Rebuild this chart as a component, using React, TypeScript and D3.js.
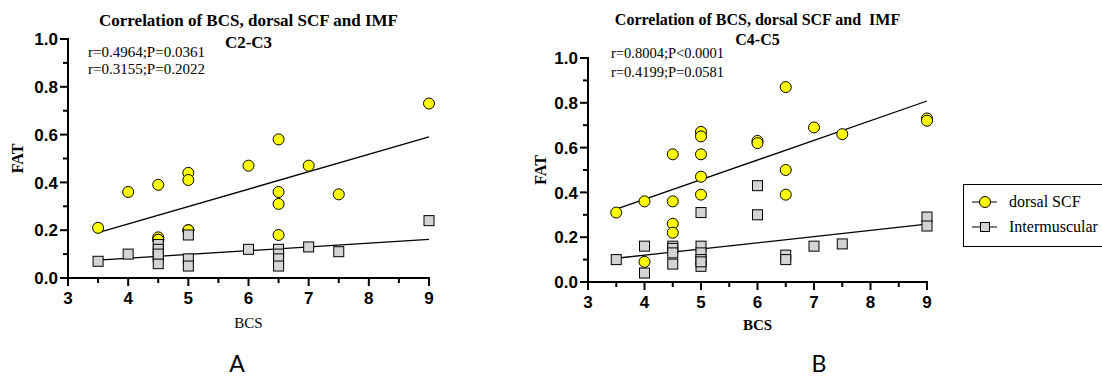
import React from "react";
import * as d3 from "d3";

// Panel A: C2-C3
const scfA_x = [3.5, 4, 4.5, 4.5, 4.5, 5, 5, 5, 6, 6.5, 6.5, 6.5, 6.5, 7, 7.5, 9, 4.5, 5];
const scfA_y = [0.21, 0.36, 0.39, 0.17, 0.16, 0.44, 0.41, 0.2, 0.47, 0.58, 0.36, 0.31, 0.18, 0.47, 0.35, 0.73, 0.16, 0.2];
const imfA_x = [3.5, 4, 4.5, 4.5, 4.5, 4.5, 5, 5, 5, 6, 6.5, 6.5, 6.5, 6.5, 7, 7.5, 9, 4.5];
const imfA_y = [0.07, 0.1, 0.14, 0.12, 0.09, 0.06, 0.18, 0.08, 0.05, 0.12, 0.12, 0.1, 0.08, 0.05, 0.13, 0.11, 0.24, 0.1];
// fitted lines: [x0, y0, x1, y1]
const scfA_fit = [3.5, 0.19, 9, 0.59];
const imfA_fit = [3.5, 0.075, 9, 0.162];
const statsA = ["r=0.4964;P=0.0361", "r=0.3155;P=0.2022"];

// Panel B: C4-C5
const scfB_x = [3.5, 4, 4, 4.5, 4.5, 4.5, 4.5, 5, 5, 5, 5, 5, 6, 6, 6.5, 6.5, 6.5, 7, 7.5, 9, 9];
const scfB_y = [0.31, 0.36, 0.09, 0.57, 0.36, 0.26, 0.22, 0.67, 0.65, 0.57, 0.47, 0.39, 0.63, 0.62, 0.87, 0.5, 0.39, 0.69, 0.66, 0.73, 0.72];
const imfB_x = [3.5, 4, 4, 4.5, 4.5, 4.5, 4.5, 5, 5, 5, 5, 5, 6, 6, 6.5, 6.5, 7, 7.5, 9, 9, 5];
const imfB_y = [0.1, 0.16, 0.04, 0.16, 0.15, 0.13, 0.08, 0.31, 0.16, 0.13, 0.1, 0.07, 0.43, 0.3, 0.12, 0.1, 0.16, 0.17, 0.29, 0.25, 0.09];
const scfB_fit = [3.5, 0.325, 9, 0.808];
const imfB_fit = [3.5, 0.106, 9, 0.258];
const statsB = ["r=0.8004;P<0.0001", "r=0.4199;P=0.0581"];

const xTicks = [3, 4, 5, 6, 7, 8, 9];
const yTicks = [0, 0.2, 0.4, 0.6, 0.8, 1.0];
const seriesNames = ["dorsal SCF", "Intermuscular"];

const YELLOW = "#ffff00";
const GRAY = "#d4d4d4";
const SERIF = "'Liberation Serif', 'DejaVu Serif', serif";
const SANS = "'Liberation Sans', Arial, sans-serif";

type PanelProps = {
  x0: number; x1: number; y0: number; y1: number;
  title: string; subtitle: string; titleY: number; subY: number; titleSize: number;
  stats: string[]; statsX: number; statsY: number; statsGap: number; statsSize: number;
  scfX: number[]; scfY: number[]; imfX: number[]; imfY: number[];
  scfFit: number[]; imfFit: number[];
  xLabelBold: boolean; xLabelY: number; yLabelX: number;
  letter: string; letterX: number;
};

function Panel(p: PanelProps) {
  const x = d3.scaleLinear().domain([3, 9]).range([p.x0, p.x1]);
  const y = d3.scaleLinear().domain([0, 1]).range([p.y0, p.y1]);
  const cx = (p.x0 + p.x1) / 2;
  const minorY = d3.range(0.1, 1.0, 0.2);
  const minorX = d3.range(3.5, 9, 1);
  const line = d3.line<[number, number]>().x((d) => x(d[0])).y((d) => y(d[1]));
  const fitPath = (f: number[]) => line([[f[0], f[1]], [f[2], f[3]]]) || "";
  return (
    <g>
      <text x={cx} y={p.titleY} textAnchor="middle" fontFamily={SERIF} fontWeight="bold" fontSize={p.titleSize} style={{ whiteSpace: "pre" }}>
        {p.title}
      </text>
      <text x={cx} y={p.subY} textAnchor="middle" fontFamily={SERIF} fontWeight="bold" fontSize={p.titleSize}>
        {p.subtitle}
      </text>
      {p.stats.map((s, i) => (
        <text key={s} x={p.statsX} y={p.statsY + i * p.statsGap} fontFamily={SERIF} fontSize={p.statsSize}>
          {s}
        </text>
      ))}
      {/* axes */}
      <line x1={p.x0} x2={p.x0} y1={p.y1 - 1} y2={p.y0 + 1} stroke="#000" strokeWidth={2} />
      <line x1={p.x0 - 1} x2={p.x1 + 1} y1={p.y0} y2={p.y0} stroke="#000" strokeWidth={2} />
      {yTicks.map((t) => (
        <g key={"y" + t}>
          <line x1={p.x0 - 8} x2={p.x0} y1={y(t)} y2={y(t)} stroke="#000" strokeWidth={2} />
          <text x={p.x0 - 10} y={y(t)} dy="0.36em" textAnchor="end" fontFamily={SANS} fontWeight="bold" fontSize={17}>
            {d3.format(".1f")(t)}
          </text>
        </g>
      ))}
      {minorY.map((t) => (
        <line key={"my" + t} x1={p.x0 - 5} x2={p.x0} y1={y(t)} y2={y(t)} stroke="#000" strokeWidth={2} />
      ))}
      {xTicks.map((t) => (
        <g key={"x" + t}>
          <line x1={x(t)} x2={x(t)} y1={p.y0} y2={p.y0 + 8} stroke="#000" strokeWidth={2} />
          <text x={x(t)} y={p.y0 + 26} textAnchor="middle" fontFamily={SANS} fontWeight="bold" fontSize={17}>
            {t}
          </text>
        </g>
      ))}
      {minorX.map((t) => (
        <line key={"mx" + t} x1={x(t)} x2={x(t)} y1={p.y0} y2={p.y0 + 5} stroke="#000" strokeWidth={2} />
      ))}
      <text
        transform={`translate(${p.yLabelX},${(p.y0 + p.y1) / 2}) rotate(-90)`}
        textAnchor="middle"
        fontFamily={SERIF}
        fontWeight="bold"
        fontSize={16}
      >
        FAT
      </text>
      <text x={cx} y={p.xLabelY} textAnchor="middle" fontFamily={SERIF} fontWeight={p.xLabelBold ? "bold" : "normal"} fontSize={15}>
        BCS
      </text>
      {/* fit lines */}
      <path d={fitPath(p.scfFit)} stroke="#000" strokeWidth={1.3} fill="none" />
      <path d={fitPath(p.imfFit)} stroke="#000" strokeWidth={1.3} fill="none" />
      {/* points */}
      {p.scfX.map((v, i) => (
        <circle key={"c" + i} cx={x(v)} cy={y(p.scfY[i])} r={5.5} fill={YELLOW} stroke="#000" strokeWidth={1} />
      ))}
      {p.imfX.map((v, i) => (
        <rect key={"s" + i} x={x(v) - 5} y={y(p.imfY[i]) - 5} width={10} height={10} fill={GRAY} stroke="#000" strokeWidth={1} />
      ))}
      <text x={p.letterX} y={372} textAnchor="middle" fontFamily="Lato, 'Open Sans', sans-serif" fontSize={23}>
        {p.letter}
      </text>
    </g>
  );
}

export default function App() {
  return (
    <svg width={1102} height={378} style={{ position: "absolute", left: 0, top: 0, background: "#fff" }}>
      <Panel
        x0={68} x1={429} y0={278} y1={39}
        title="Correlation of BCS, dorsal SCF and IMF" subtitle="C2-C3" titleY={26} subY={48} titleSize={17}
        stats={statsA} statsX={88} statsY={57} statsGap={17} statsSize={15}
        scfX={scfA_x} scfY={scfA_y} imfX={imfA_x} imfY={imfA_y}
        scfFit={scfA_fit} imfFit={imfA_fit}
        xLabelBold={false} xLabelY={328} yLabelX={23}
        letter="A" letterX={237}
      />
      <Panel
        x0={588} x1={927} y0={282} y1={58}
        title="Correlation of BCS, dorsal SCF and  IMF" subtitle="C4-C5" titleY={25} subY={45} titleSize={16}
        stats={statsB} statsX={611} statsY={58} statsGap={19} statsSize={14.5}
        scfX={scfB_x} scfY={scfB_y} imfX={imfB_x} imfY={imfB_y}
        scfFit={scfB_fit} imfFit={imfB_fit}
        xLabelBold={true} xLabelY={330} yLabelX={546}
        letter="B" letterX={819}
      />
      {/* legend */}
      <g>
        <rect x={963.5} y={184.5} width={142} height={62} fill="#fff" stroke="#000" strokeWidth={1} />
        <line x1={972} x2={997} y1={202} y2={202} stroke="#000" strokeWidth={1} />
        <circle cx={985} cy={202} r={5.5} fill={YELLOW} stroke="#000" strokeWidth={1} />
        <text x={1009} y={207} fontFamily={SERIF} fontSize={16}>{seriesNames[0]}</text>
        <line x1={972} x2={997} y1={227} y2={227} stroke="#000" strokeWidth={1} />
        <rect x={980.5} y={222.5} width={9} height={9} fill={GRAY} stroke="#000" strokeWidth={1} />
        <text x={1009} y={232} fontFamily={SERIF} fontSize={16}>{seriesNames[1]}</text>
      </g>
    </svg>
  );
}
